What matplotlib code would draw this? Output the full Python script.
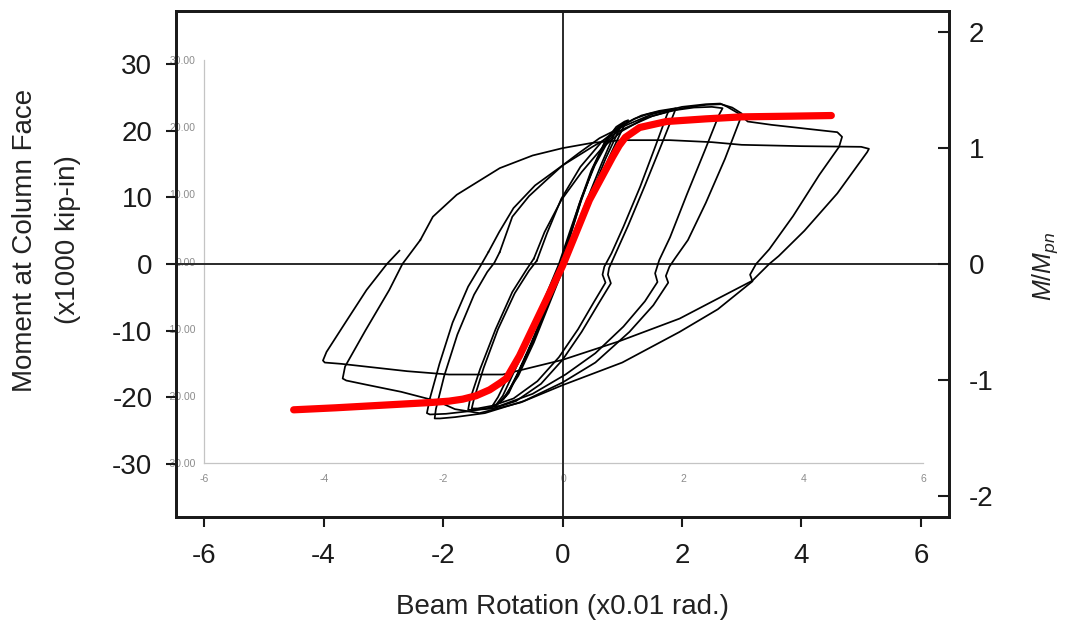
import matplotlib
matplotlib.use("Agg")
import matplotlib.pyplot as plt

# ---------------------------------------------------------------------------
# Data: beam rotation (x0.01 rad) vs. moment at column face (x1000 kip-in)
# ---------------------------------------------------------------------------
x_ticks = [-6, -4, -2, 0, 2, 4, 6]
y_ticks = [-30, -20, -10, 0, 10, 20, 30]
norm_ticks = [-2, -1, 0, 1, 2]
M_pn = 17.44  # plastic moment (x1000 kip-in), used for the M/Mpn axis

# elastic-range cycles
elastic1_x = [0.00, 0.14, 0.32, 0.52, 0.70, 0.86, 0.95, 0.88, 0.66, 0.40, 0.14, -0.08, -0.30, -0.54, -0.76, -0.92, -1.00, -0.90, -0.70, -0.46, -0.24, -0.04]
elastic1_y = [0.0, 4.6, 9.8, 14.6, 18.0, 20.0, 20.6, 19.8, 15.2, 9.4, 3.4, -1.8, -7.0, -12.2, -16.6, -19.4, -20.4, -19.4, -15.6, -10.8, -5.8, -0.8]
elastic2_x = [-0.04, 0.12, 0.30, 0.50, 0.70, 0.88, 1.00, 1.04, 0.96, 0.72, 0.46, 0.20, -0.04, -0.26, -0.50, -0.74, -0.92, -1.04, -1.10, -1.00, -0.78, -0.52, -0.28, -0.06]
elastic2_y = [-0.8, 4.0, 9.2, 14.2, 18.0, 20.2, 21.0, 21.2, 20.4, 15.8, 10.0, 4.0, -1.4, -6.4, -11.8, -16.4, -19.4, -20.8, -21.0, -19.8, -15.6, -10.6, -5.6, -0.8]
elastic3_x = [-0.06, 0.10, 0.28, 0.48, 0.70, 0.90, 1.04, 1.10, 1.02, 0.78, 0.50, 0.24, 0.00, -0.24, -0.48, -0.74, -0.96, -1.10, -1.18, -1.08, -0.84, -0.56, -0.30, -0.06]
elastic3_y = [-0.8, 3.8, 9.0, 14.0, 18.2, 20.6, 21.4, 21.6, 20.6, 16.0, 10.2, 4.4, -1.0, -6.4, -11.8, -16.8, -19.8, -21.2, -21.4, -20.0, -15.6, -10.4, -5.2, 0.0]

# inelastic cycles
cycle2a_x = [-0.06, 0.12, 0.32, 0.54, 0.76, 0.98, 1.20, 1.42, 1.62, 1.78, 1.74, 1.56, 1.30, 1.02, 0.82, 0.70, 0.67, 0.72, 0.52, 0.26, -0.06, -0.42, -0.82, -1.18, -1.42, -1.52, -1.48, -1.32, -1.08, -0.80, -0.56, -0.43]
cycle2a_y = [0.0, 4.8, 10.0, 14.8, 18.4, 20.6, 21.8, 22.5, 22.9, 23.1, 22.2, 17.8, 11.6, 5.6, 1.6, -0.4, -1.6, -2.8, -5.8, -9.8, -14.0, -17.6, -20.2, -21.3, -21.7, -21.7, -20.2, -15.6, -9.8, -4.4, -1.0, 0.5]
cycle2b_x = [-0.43, -0.26, -0.02, 0.30, 0.66, 1.00, 1.32, 1.62, 1.90, 1.86, 1.66, 1.38, 1.10, 0.90, 0.78, 0.76, 0.81, 0.60, 0.32, 0.00, -0.36, -0.78, -1.16, -1.44, -1.58, -1.55, -1.38, -1.12, -0.84, -0.60, -0.48]
cycle2b_y = [0.5, 4.6, 9.8, 14.6, 18.4, 20.9, 22.3, 23.0, 23.4, 22.5, 18.0, 11.8, 5.8, 1.8, -0.6, -1.6, -2.9, -6.0, -10.2, -14.4, -18.0, -20.6, -21.7, -21.9, -21.9, -20.4, -15.8, -9.8, -4.2, -0.8, 0.8]
cycle3a_x = [-0.48, -0.30, -0.02, 0.32, 0.66, 1.00, 1.38, 1.80, 2.20, 2.50, 2.68, 2.62, 2.38, 2.08, 1.80, 1.62, 1.55, 1.59, 1.38, 1.02, 0.55, 0.05, -0.50, -1.05, -1.55, -1.95, -2.22, -2.27, -2.22, -2.06, -1.84, -1.58, -1.38, -1.24]
cycle3a_y = [0.8, 4.8, 9.6, 13.8, 17.4, 20.0, 21.9, 23.0, 23.5, 23.6, 23.4, 22.4, 17.0, 10.4, 4.0, 0.6, -1.4, -2.7, -5.6, -9.4, -13.4, -16.6, -19.5, -21.3, -22.1, -22.5, -22.6, -22.4, -20.2, -15.0, -8.8, -3.4, -0.4, 1.8]
cycle3b_x = [-1.24, -1.06, -0.82, -0.46, 0.00, 0.50, 1.00, 1.50, 2.00, 2.40, 2.66, 2.84, 3.00, 2.96, 2.72, 2.40, 2.10, 1.88, 1.79, 1.73, 1.77, 1.52, 1.12, 0.55, 0.00, -0.65, -1.30, -1.80, -2.05, -2.14, -2.12, -1.98, -1.76, -1.48, -1.26, -1.14, -1.05]
cycle3b_y = [1.8, 4.8, 8.4, 11.8, 14.8, 17.6, 20.2, 22.2, 23.4, 23.9, 24.0, 23.5, 22.6, 21.4, 15.8, 9.2, 3.6, 0.8, -0.4, -1.8, -2.8, -6.2, -10.2, -14.8, -17.8, -20.6, -22.4, -23.0, -23.2, -23.2, -21.8, -16.8, -10.6, -4.6, -1.2, 0.2, 1.8]
cycle4_x = [-1.05, -0.84, -0.56, -0.27, 0.00, 0.28, 0.62, 1.00, 1.50, 2.00, 2.40, 2.64, 2.76, 2.95, 3.10, 3.50, 4.00, 4.60, 4.68, 4.63, 4.30, 3.86, 3.46, 3.24, 3.14, 3.18, 2.60, 1.96, 1.00, 0.00, -0.70, -1.39, -1.80, -2.10, -2.70, -3.30, -3.62, -3.68, -3.64, -3.30, -2.90, -2.68, -2.38]
cycle4_y = [1.8, 7.1, 10.2, 12.6, 14.8, 16.7, 18.9, 20.6, 22.5, 23.6, 24.0, 24.1, 23.6, 22.6, 21.4, 20.9, 20.4, 19.8, 19.1, 17.6, 13.4, 7.2, 2.2, 0.0, -1.6, -2.6, -6.8, -10.2, -14.8, -18.2, -20.8, -22.4, -21.8, -20.6, -19.2, -18.1, -17.5, -17.2, -15.4, -10.0, -3.9, 0.0, 3.6]
cycle5_x = [-2.38, -2.17, -1.77, -1.05, -0.50, 0.00, 0.50, 1.00, 1.80, 2.50, 3.00, 4.00, 5.00, 5.13, 5.10, 4.60, 4.05, 3.62, 3.46, 3.28, 3.18, 2.60, 1.96, 0.95, 0.00, -1.00, -1.90, -2.60, -3.20, -3.70, -3.98, -4.01, -3.95, -3.62, -3.28, -2.94, -2.73]
cycle5_y = [3.6, 7.1, 10.4, 14.4, 16.3, 17.4, 18.2, 18.6, 18.6, 18.3, 17.9, 17.7, 17.6, 17.3, 16.8, 10.6, 5.0, 1.2, 0.0, -1.6, -2.5, -5.2, -8.2, -11.6, -14.4, -16.6, -16.6, -16.1, -15.5, -15.0, -14.8, -14.5, -13.2, -8.6, -3.9, 0.0, 2.0]

# backbone curve
backbone_x = [-4.50, -3.80, -3.20, -2.60, -2.20, -1.90, -1.67, -1.45, -1.22, -1.05, -0.94, -0.72, -0.40, 0.00, 0.45, 0.84, 0.95, 1.05, 1.29, 1.74, 2.40, 3.00, 3.80, 4.50]
backbone_y = [-21.9, -21.6, -21.3, -21.0, -20.8, -20.6, -20.3, -19.8, -18.9, -17.9, -17.2, -13.8, -7.8, -0.3, 9.6, 16.1, 17.8, 19.0, 20.5, 21.4, 21.8, 22.1, 22.2, 22.3]

cycles = [
    (elastic1_x, elastic1_y), (elastic2_x, elastic2_y), (elastic3_x, elastic3_y),
    (cycle2a_x, cycle2a_y), (cycle2b_x, cycle2b_y),
    (cycle3a_x, cycle3a_y), (cycle3b_x, cycle3b_y),
    (cycle4_x, cycle4_y), (cycle5_x, cycle5_y),
]

# ---------------------------------------------------------------------------
plt.rcParams['font.family'] = ['Liberation Sans', 'DejaVu Sans']
plt.rcParams['axes.unicode_minus'] = False
plt.rcParams['mathtext.fontset'] = 'custom'
plt.rcParams['mathtext.it'] = 'Liberation Sans:italic'
plt.rcParams['mathtext.rm'] = 'Liberation Sans'

W, H = 1077, 624
fig = plt.figure(figsize=(W / 100, H / 100), dpi=100)


def box(left, top, right, bottom):
    return [left / W, 1 - bottom / H, (right - left) / W, (bottom - top) / H]


# faint underlying plot frame with its own small labels
ax_in = fig.add_axes(box(204, 60, 923, 463))
ax_in.set_xlim(-6, 6)
ax_in.set_ylim(-30, 30)
for s in ('top', 'right'):
    ax_in.spines[s].set_visible(False)
for s in ('left', 'bottom'):
    ax_in.spines[s].set_color('#c4c4c4')
    ax_in.spines[s].set_linewidth(0.9)
ax_in.set_xticks(x_ticks)
ax_in.set_yticks(y_ticks)
ax_in.set_yticklabels([f'{v:.2f}' for v in y_ticks])
ax_in.tick_params(axis='both', length=0, colors='#8c8c8c')
ax_in.tick_params(axis='x', pad=8, labelsize=7.5)
ax_in.tick_params(axis='y', pad=6, labelsize=7.5)

# main axes
ax = fig.add_axes(box(176, 11, 949, 517))
ax.patch.set_alpha(0)
ax.set_xlim(-6.47, 6.47)
ax.set_ylim(-38, 38)
ax.set_xticks(x_ticks)
ax.set_yticks(y_ticks)
for s in ax.spines.values():
    s.set_linewidth(2.0)
    s.set_color('#1a1a1a')
ax.tick_params(axis='both', direction='out', length=7, width=1.5,
               labelsize=20, colors='#1a1a1a')
ax.tick_params(axis='y', pad=10)
ax.tick_params(axis='x', pad=12)

ax.axhline(0, color='#2a2a2a', lw=1.4, zorder=1)
ax.axvline(0, color='#2a2a2a', lw=1.4, zorder=1)

for cx, cy in cycles:
    ax.plot(cx, cy, color='#000000', lw=1.25, solid_joinstyle='round', zorder=3)

ax.plot(backbone_x, backbone_y, color='#ff0000', lw=5.2,
        solid_capstyle='round', solid_joinstyle='round', zorder=5)

# normalized moment axis
ax2 = ax.twinx()
ax2.set_ylim(-38 / M_pn, 38 / M_pn)
ax2.set_yticks(norm_ticks)
for s in ax2.spines.values():
    s.set_linewidth(2.0)
    s.set_color('#1a1a1a')
ax2.tick_params(axis='y', direction='in', length=8, width=1.5,
                labelsize=20, pad=14, colors='#1a1a1a')

fig.text(25 / W, 1 - 240 / H, 'Moment at Column Face', rotation=90,
         ha='center', va='center', fontsize=20, color='#222222')
fig.text(68 / W, 1 - 240 / H, '(x1000 kip-in)', rotation=90,
         ha='center', va='center', fontsize=20, color='#222222')
fig.text(563 / W, 1 - 607 / H, 'Beam Rotation (x0.01 rad.)',
         ha='center', va='center', fontsize=20, color='#222222')
fig.text(1045 / W, 1 - 266 / H, r'$M/M_{pn}$', rotation=90,
         ha='center', va='center', fontsize=18, color='#222222')

fig.savefig('out.png', dpi=100)
